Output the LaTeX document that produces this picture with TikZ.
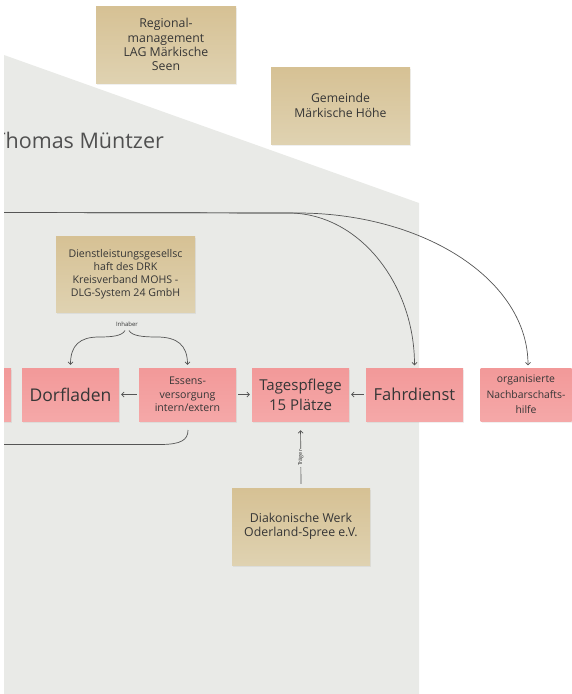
\documentclass[tikz,border=0pt]{standalone}
\usepackage{fontspec}
\setmainfont{Open Sans}
\usetikzlibrary{arrows.meta,shadows}
\definecolor{bggray}{HTML}{E9EAE7}
\definecolor{pinkT}{HTML}{F29999}
\definecolor{pinkB}{HTML}{F5A8A8}
\definecolor{beigeT}{HTML}{D6C194}
\definecolor{beigeB}{HTML}{DFD2B1}
\definecolor{txt}{HTML}{363636}
\definecolor{titlecol}{HTML}{505050}
\definecolor{linecol}{HTML}{555555}
\tikzset{
  card/.style={draw=none, inner sep=0pt, align=center, text=txt,
    drop shadow={shadow xshift=1pt, shadow yshift=-1.5pt, opacity=0.12}},
  pinkcard/.style={card, top color=pinkT, bottom color=pinkB,
    minimum width=97pt, minimum height=53pt},
  beigecard/.style={card, top color=beigeT, bottom color=beigeB},
  conn/.style={draw=linecol, line width=0.7pt},
  arr/.style={conn, -{Straight Barb[length=2.5pt,width=5pt]}},
}
\newcommand{\fs}[2]{\fontsize{#1}{#2}\selectfont}
\begin{document}
\begin{tikzpicture}[x=1pt,y=-1pt]
\useasboundingbox (0,0) rectangle (572,694);
\begin{scope}
\clip (4,0) rectangle (572,694);
% grey background region
\fill[bggray] (4,55) -- (419,203) -- (419,694) -- (4,694) -- cycle;
% title
\node[anchor=base west, inner sep=0pt, text=titlecol, font=\fs{21.5}{26}] (title) at (-6.5,148) {Thomas Müntzer};

% beige cards
\node[beigecard, minimum width=140pt, minimum height=77pt, font=\fs{12.3}{14.2}] (reg) at (166,44.5)
  {Regional-\\management\\LAG Märkische\\Seen};
\node[beigecard, minimum width=139pt, minimum height=77pt, font=\fs{12.2}{15}] (gem) at (340.5,105.5)
  {Gemeinde\\Märkische Höhe};
\node[beigecard, minimum width=139pt, minimum height=76pt, font=\fs{10.6}{13}] (drk) at (125.5,274)
  {Dienstleistungsgesellsc\\haft des DRK\\Kreisverband MOHS -\\DLG-System 24 GmbH};
\node[beigecard, minimum width=138pt, minimum height=77pt, font=\fs{12.3}{14.5}] (dia) at (301,526.5)
  {Diakonische Werk\\Oderland-Spree e.V.};

% pink cards
\node[pinkcard, minimum width=20pt] (left) at (1,394.5) {};
\node[pinkcard, font=\fs{17.5}{20}] (dorf) at (70.5,394.5) {Dorfladen};
\node[pinkcard, font=\fs{15}{20}] (tag) at (300.5,394.5) {Tagespflege\\15 Plätze};
\node[pinkcard, font=\fs{10.6}{13.5}] (ess) at (187.5,394.5) {Essens-\\versorgung\\intern/extern};
\node[pinkcard, font=\fs{16.5}{20}] (fahr) at (414.5,394.5) {Fahrdienst};
\node[pinkcard, minimum width=91pt, font=\fs{10.4}{15.5}] (nach) at (526,394.5) {organisierte\\Nachbarschafts-\\hilfe};

% connectors between cards
\draw[arr, shorten <=2pt, shorten >=2pt] (ess.west) -- (dorf.east);
\draw[arr, shorten <=2pt, shorten >=2pt] (ess.east) -- (tag.west);
\draw[arr, shorten <=2pt, shorten >=2pt] (fahr.west) -- (tag.east);
\draw[arr, shorten <=4pt, shorten >=9pt] (dia.north) -- (tag.south)
  node[pos=0.45, rotate=90, fill=bggray, inner sep=1pt, text=txt, font=\fs{5.5}{6}] (trg) {Träger};

% Inhaber
\node[inner sep=0pt, text=txt, font=\fs{6}{7}] (inh) at (127,324) {Inhaber};
\coordinate (inhL) at (125,330.5);
\coordinate (inhR) at (129,330.5);
\draw[arr, shorten >=3pt] (inhL) .. controls (122,336) and (112,337) .. (99,337)
  .. controls (80,337) and (70.5,345) .. (dorf.north);
\draw[arr, shorten >=3pt] (inhR) .. controls (132,336) and (143,337) .. (157,337)
  .. controls (177,337) and (187.5,345) .. (ess.north);

% bottom brace line
\coordinate (bl) at (0,444.5);
\coordinate (be) at (188,430);
\draw[conn] (bl) -- (160,444.5) .. controls (181,444.5) and (188,440) .. (be);

% long curves from the left
\coordinate (src) at (0,212.5);
\draw[arr, shorten >=2.5pt] (src) -- (290,213) .. controls (360,214) and (414.5,285) .. (fahr.north);
\draw[arr, shorten >=2.5pt] (src) -- (300,213) .. controls (426,214) and (528,281) .. ([xshift=2pt]nach.north);
\end{scope}
\end{tikzpicture}
\end{document}
